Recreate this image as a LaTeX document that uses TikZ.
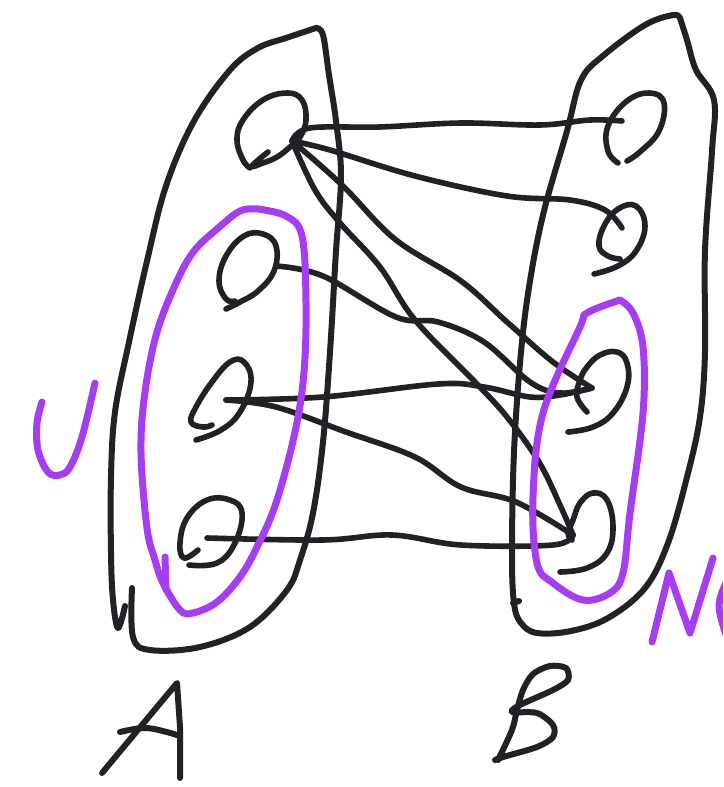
\documentclass[tikz,border=0pt]{standalone}
\definecolor{inkc}{HTML}{222226}
\definecolor{violet1}{HTML}{A63CF8}
\begin{document}
\begin{tikzpicture}[x=1pt,y=-1pt,
  ink/.style={draw=inkc, line width=6pt, line cap=round, line join=round},
  pen/.style={draw=violet1, line width=7pt, line cap=round, line join=round},
  conn/.style={ink, line width=5.6pt},
  loopline/.style={ink, line width=5.6pt}]
\useasboundingbox (0,0) rectangle (723,787);
\clip (0,0) rectangle (723,787);

% ---------- anchor points of the vertices ----------
\coordinate (a1) at (292,141);
\coordinate (a2) at (276,266);
\coordinate (a3) at (226,400);
\coordinate (a4) at (207,538);
\coordinate (b1) at (622,121);
\coordinate (b2) at (622,228);
\coordinate (b3) at (592,388);
\coordinate (b4) at (573,535);

% ---------- set A outline ----------
\draw[ink] plot[smooth, tension=0.6] coordinates {(125,606) (118,628) (113,600) (111,553) (111,477) (115,412) (129,342) (147,261) (166,186) (194,121) (230,70) (258,48) (286,38) (316,28)};
\draw[ink] plot[smooth, tension=0.6] coordinates {(316,28) (323,35) (329,75) (336,121) (341,176) (336,251) (330,352) (323,442) (313,513) (300,560) (287,590) (250,627) (200,647) (150,650) (133,637) (132,588)};

% ---------- set B outline ----------
\draw[ink] plot[smooth, tension=0.6] coordinates {(680,18) (673,15) (645,25) (604,55) (581,80) (567,131) (544,211) (530,281) (521,352) (514,452) (512,553) (514,603) (521,623) (537,633) (571,631) (608,618) (645,588) (668,543) (687,477) (700,417) (705,352) (705,251) (712,151) (714,100) (696,70) (687,40) (680,18)};
\draw[ink] (513,603) -- (519,601);

% ---------- vertices of A ----------
\draw[loopline] plot[smooth, tension=0.7] coordinates {(268,152) (252,166) (263,163) (277,157) (290,147) (300,137) (306,120) (302,100) (287,93) (263,100) (243,120) (237,140) (243,160) (250,168)};
\draw[loopline] plot[smooth, tension=0.7] coordinates {(226,309) (240,302) (258,291) (274,271) (276,246) (263,234) (244,236) (226,256) (219,281) (226,299) (235,301)};
\draw[loopline] plot[smooth, tension=0.7] coordinates {(196,440) (221,430) (240,412) (251,382) (244,362) (230,362) (212,382) (196,407) (191,422) (203,427) (212,425)};
\draw[loopline] plot[smooth, tension=0.7] coordinates {(189,565) (217,563) (235,543) (242,513) (230,500) (207,500) (187,518) (180,543) (184,558) (198,550)};

% ---------- vertices of B ----------
\draw[loopline] plot[smooth, tension=0.7] coordinates {(618,163) (608,151) (608,126) (627,101) (650,93) (664,103) (659,131) (641,151) (627,161)};
\draw[loopline] plot[smooth, tension=0.7] coordinates {(594,274) (618,266) (636,251) (645,226) (636,206) (618,209) (604,226) (599,246) (608,256) (620,259)};
\draw[loopline] plot[smooth, tension=0.7] coordinates {(568,432) (593,427) (613,413) (627,387) (627,363) (617,352) (600,355) (587,367) (580,380) (577,397) (587,412)};
\draw[loopline] plot[smooth, tension=0.7] coordinates {(560,572) (587,568) (607,553) (613,527) (607,500) (593,493) (580,503) (573,520) (568,533) (572,540)};

% ---------- connectors ----------
\draw[conn] plot[smooth, tension=0.6] coordinates {(a1) (310,128) (380,127) (461,123) (540,125) (590,120) (b1)};
\draw[conn] plot[smooth, tension=0.6] coordinates {(a1) (330,150) (415,176) (507,196) (570,200) (605,210) (b2)};
\draw[conn] plot[smooth, tension=0.6] coordinates {(a1) (320,165) (347,190) (396,240) (461,281) (507,322) (553,362) (b3)};
\draw[conn] plot[smooth, tension=0.6] coordinates {(a1) (315,190) (340,223) (380,267) (415,320) (475,382) (507,417) (539,462) (560,505) (b4)};
\draw[conn] plot[smooth, tension=0.6] coordinates {(a2) (323,276) (396,317) (438,322) (484,342) (530,382) (560,393) (b3)};
\draw[conn] plot[smooth, tension=0.6] coordinates {(a3) (323,397) (438,384) (484,387) (530,397) (560,395) (b3)};
\draw[conn] plot[smooth, tension=0.6] coordinates {(a3) (276,407) (346,432) (415,457) (461,487) (516,502) (b4)};
\draw[conn] plot[smooth, tension=0.6] coordinates {(a4) (323,540) (392,535) (461,545) (553,545) (b4)};

% ---------- purple sets ----------
\draw[pen] plot[smooth, tension=0.6] coordinates {(258,209) (286,216) (302,236) (306,302) (304,372) (295,432) (276,503) (257,547) (240,577) (217,602) (193,613) (180,610) (163,583) (155,560) (147,528) (141,452) (145,392) (157,332) (177,281) (194,251) (217,229) (240,211) (258,209)};
\draw[pen] (165,557) -- (166,590);
\draw[pen] plot[smooth, tension=0.6] coordinates {(620,300) (633,313) (643,347) (643,413) (630,513) (623,573) (610,593) (583,600) (553,583) (537,563) (533,497) (543,413) (580,327) (587,313) (620,300)};

% ---------- labels ----------
\draw[pen] plot[smooth, tension=0.6] coordinates {(42,402) (37,423) (38,450) (48,472) (60,475) (70,467) (82,437) (95,383)};
\draw[pen] (652,642) -- (669,573) -- (690,633) -- (713,558);
\draw[pen] plot[smooth, tension=0.6] coordinates {(730,575) (719,605) (728,640)};
\draw[ink] (102,773) -- (177,683) -- (180,727) -- (180,778);
\draw[ink] plot[smooth, tension=0.6] coordinates {(120,732) (147,728) (177,735)};
\draw[ink] plot[smooth, tension=0.5] coordinates {(498,760) (512,730) (517,710) (523,690) (533,674) (550,666) (566,668) (568,680) (553,690) (520,705) (512,712) (537,713) (553,725) (553,737) (537,747) (503,757) (495,760)};
\end{tikzpicture}
\end{document}
